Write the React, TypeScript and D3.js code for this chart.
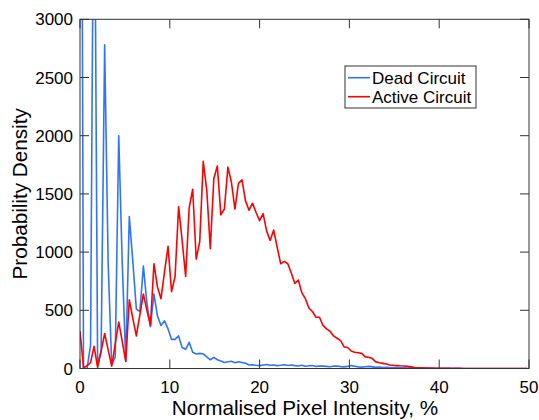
import React from 'react';
import * as d3 from 'd3';

const xTicks = [0, 10, 20, 30, 40, 50];
const yTicks = [0, 500, 1000, 1500, 2000, 2500, 3000];
const binWidth = 100 / 255;
const seriesNames = ['Dead Circuit', 'Active Circuit'];
const seriesColors = ['#2f74ff', '#ff0000'];

const deadCircuit = [
  9000, 0, 0, 200, 5000, 30, 150, 2780, 900, 30,
  100, 2000, 900, 60, 1305, 920, 510, 490, 880, 560,
  360, 640, 450, 370, 410, 340, 250, 250, 280, 180,
  165, 225, 140, 125, 130, 125, 100, 75, 96, 75,
  65, 52, 58, 62, 50, 58, 52, 45, 30, 32,
  28, 25, 30, 35, 28, 30, 25, 28, 32, 26,
  30, 25, 22, 28, 20, 24, 26, 18, 22, 20,
  18, 15, 20, 22, 16, 14, 18, 25, 20, 14,
  12, 15, 18, 14, 10, 12, 8, 10, 9, 6,
  8, 5, 6, 4, 5, 3, 4, 2, 3, 2,
  2, 1, 2, 1, 1, 1, 0, 1, 0, 0,
  0, 0, 0, 0, 0, 0, 0, 0, 0, 0,
  0, 0, 0, 0, 0, 0, 0, 0,
];

const activeCircuit = [
  320, 5, 25, 50, 190, 10, 150, 300, 160, 20,
  210, 400, 230, 60, 590, 430, 280, 460, 640, 500,
  370, 900, 700, 600, 830, 1050, 660, 790, 1390, 1100,
  790, 1380, 1540, 940, 1090, 1780, 1530, 1030, 1630, 1740,
  1320, 1370, 1730, 1600, 1370, 1590, 1620, 1440, 1360, 1420,
  1340, 1270, 1330, 1180, 1100, 1190, 1040, 900, 920, 900,
  820, 730, 760, 650, 600, 520, 490, 440, 440, 370,
  340, 320, 280, 260, 240, 185, 180, 150, 140, 135,
  130, 100, 97, 85, 57, 50, 44, 38, 30, 27,
  25, 23, 22, 18, 14, 8, 6, 5, 4, 3,
  3, 2, 2, 2, 1, 1, 1, 1, 1, 0,
  0, 0, 0, 0, 0, 0, 0, 0, 0, 0,
  0, 0, 0, 0, 0, 0, 0, 0,
];

const FONT = '"Liberation Sans", Arial, Helvetica, sans-serif';

export default function App() {
  const W = 539;
  const H = 420;
  const left = 80, right = 529, top = 19.3, bottom = 368.5;
  const x = d3.scaleLinear().domain([0, 50]).range([left, right]);
  const y = d3.scaleLinear().domain([0, 3000]).range([bottom, top]);
  const line = d3
    .line<number>()
    .x((_, i) => x(i * binWidth))
    .y((d) => y(d));
  const series = [deadCircuit, activeCircuit];
  const axisColor = '#333333';
  const tickLen = 9;

  return (
    <svg
      width={W}
      height={H}
      style={{ position: 'absolute', left: 0, top: 0, background: '#fff' }}
      fontFamily={FONT}
    >
      <defs>
        <clipPath id="plotClip">
          <rect x={left} y={top} width={right - left} height={bottom - top} />
        </clipPath>
      </defs>
      <rect x={0} y={0} width={W} height={H} fill="#fff" />
      <g clipPath="url(#plotClip)">
        {series.map((s, i) => (
          <path
            key={i}
            d={line(s) || ''}
            fill="none"
            stroke={seriesColors[i]}
            strokeWidth={1.6}
            strokeLinejoin="round"
          />
        ))}
      </g>
      <rect x={left} y={top} width={right - left} height={bottom - top} fill="none" stroke={axisColor} strokeWidth={1} />
      {xTicks.map((t) => (
        <g key={'x' + t}>
          <line x1={x(t)} x2={x(t)} y1={bottom} y2={bottom - tickLen} stroke={axisColor} />
          <line x1={x(t)} x2={x(t)} y1={top} y2={top + tickLen} stroke={axisColor} />
          <text x={x(t)} y={bottom + 24} textAnchor="middle" fontSize={17} fill="#000">
            {t}
          </text>
        </g>
      ))}
      {yTicks.map((t) => (
        <g key={'y' + t}>
          <line x1={left} x2={left + tickLen} y1={y(t)} y2={y(t)} stroke={axisColor} />
          <line x1={right} x2={right - tickLen} y1={y(t)} y2={y(t)} stroke={axisColor} />
          <text x={left - 7} y={y(t) + 6} textAnchor="end" fontSize={17} fill="#000">
            {t}
          </text>
        </g>
      ))}
      <text x={(left + right) / 2 + 0.5} y={415} textAnchor="middle" fontSize={20.7} fill="#000">
        Normalised Pixel Intensity, %
      </text>
      <text
        transform={`translate(27, ${(top + bottom) / 2}) rotate(-90)`}
        textAnchor="middle"
        fontSize={20.7}
        fill="#000"
      >
        Probability Density
      </text>
      <g>
        <rect x={345} y={66} width={131} height={42} fill="#fff" stroke={axisColor} strokeWidth={1} />
        {seriesNames.map((n, i) => (
          <g key={n}>
            <line x1={348} x2={370} y1={77.7 + i * 19} y2={77.7 + i * 19} stroke={seriesColors[i]} strokeWidth={1.6} />
            <text x={372} y={77.7 + i * 19 + 6} fontSize={17} fill="#000">
              {n}
            </text>
          </g>
        ))}
      </g>
    </svg>
  );
}
